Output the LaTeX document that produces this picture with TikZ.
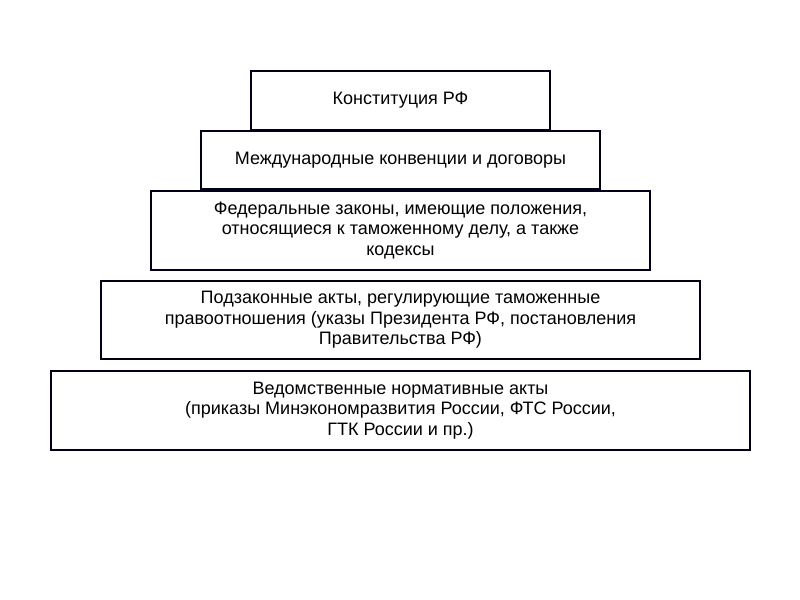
\documentclass[tikz,border=0pt]{standalone}
\usepackage{fontspec}
\setmainfont{Liberation Sans}
\begin{document}
\begin{tikzpicture}[x=0.75pt,y=-0.75pt]
    \tikzstyle{level}=[
        draw = black!90!blue,
        line width = 1.5pt,
        fill = white,
        align = center,
        inner sep = 0pt,
        font = \fontsize{13.5}{15.5}\selectfont
    ]
    \useasboundingbox (0,0) rectangle (800,600);

	\node[level, minimum width=299*0.75pt, minimum height=59*0.75pt] (konst) at (400.5,100.5) {Конституция РФ};
	\node[level, minimum width=399*0.75pt, minimum height=58*0.75pt] (mezhd) at (400.5,160) {Международные конвенции и договоры};
	\node[level, minimum width=499*0.75pt, minimum height=79*0.75pt] (fedz) at (400.5,230.5) {Федеральные законы, имеющие положения,\\относящиеся к таможенному делу, а также\\кодексы};
	\node[level, minimum width=599*0.75pt, minimum height=78*0.75pt] (podz) at (400.5,320) {Подзаконные акты, регулирующие таможенные\\правоотношения (указы Президента РФ, постановления\\Правительства РФ)};
	\node[level, minimum width=699*0.75pt, minimum height=79*0.75pt] (vedom) at (400.5,410.5) {Ведомственные нормативные акты\\(приказы Минэкономразвития России, ФТС России,\\ГТК России и пр.)};

\end{tikzpicture}
\end{document}
